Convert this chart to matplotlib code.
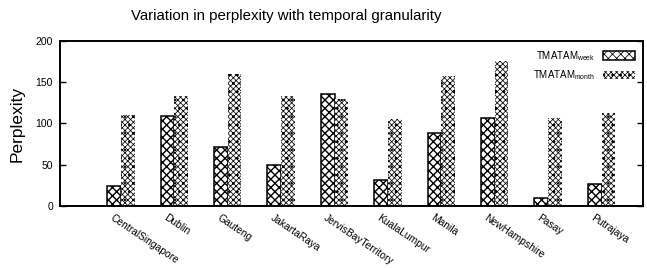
import matplotlib
matplotlib.use("Agg")
import matplotlib.pyplot as plt
import matplotlib.transforms as mtransforms
import numpy as np

categories = ["CentralSingapore", "Dublin", "Gauteng", "JakartaRaya", "JervisBayTerritory",
              "KualaLumpur", "Manila", "NewHampshire", "Pasay", "Putrajaya"]
week = [24, 109, 71, 50, 136, 31, 89, 107, 9, 26]
month = [110, 133, 160, 134, 130, 106, 158, 176, 107, 113]
series_labels = [r"TMATAM$_{\mathrm{week}}$", r"TMATAM$_{\mathrm{month}}$"]
yticks = [0, 50, 100, 150, 200]

plt.rcParams['font.family'] = ['Liberation Sans', 'DejaVu Sans']
plt.rcParams['mathtext.fontset'] = 'custom'
plt.rcParams['mathtext.rm'] = 'Liberation Sans'

fig = plt.figure(figsize=(6.47, 2.68), dpi=100)
ax = fig.add_axes([0.0927, 0.2325, 0.9010, 0.6134])

x = np.arange(len(categories))
w = 0.257
plt.rcParams['hatch.linewidth'] = 1.0
ax.bar(x - w / 2, week, width=w, color='white', edgecolor='black', linewidth=1.1,
       hatch='xxxx', label=series_labels[0], zorder=2)
plt.rcParams['hatch.linewidth'] = 0.55
ax.bar(x + w / 2, month, width=w, color='white', edgecolor='black', linewidth=0,
       hatch='xxxxxx..', label=series_labels[1], zorder=2)

ax.set_xlim(-1.142, 9.775)
ax.set_ylim(0, 200)
ax.set_yticks(yticks)
ax.set_yticklabels([str(t) for t in yticks], fontsize=7.5)
ax.tick_params(axis='y', direction='in', length=4, width=1, right=True, pad=5)
ax.set_xticks(x)
ax.set_xticklabels(categories, rotation=-34, ha='left', va='top',
                   rotation_mode='anchor', fontsize=7.4)
ax.tick_params(axis='x', length=0, pad=5)
offset = mtransforms.ScaledTranslation(-0.07, 0, fig.dpi_scale_trans)
for lab in ax.get_xticklabels():
    lab.set_transform(lab.get_transform() + offset)

for s in ax.spines.values():
    s.set_linewidth(1.4)

ax.set_ylabel("Perplexity", fontsize=12.5, labelpad=8)
fig.text(0.442, 0.94, "Variation in perplexity with temporal granularity",
         ha='center', va='center', fontsize=10.8)

leg = ax.legend(loc='upper right', frameon=False, markerfirst=False, fontsize=7,
                handlelength=3.3, handleheight=1.0, labelspacing=0.55,
                borderaxespad=0.4, handletextpad=0.8)
for t in leg.get_texts():
    t.set_ha('right')

fig.savefig("out.png", dpi=100)
